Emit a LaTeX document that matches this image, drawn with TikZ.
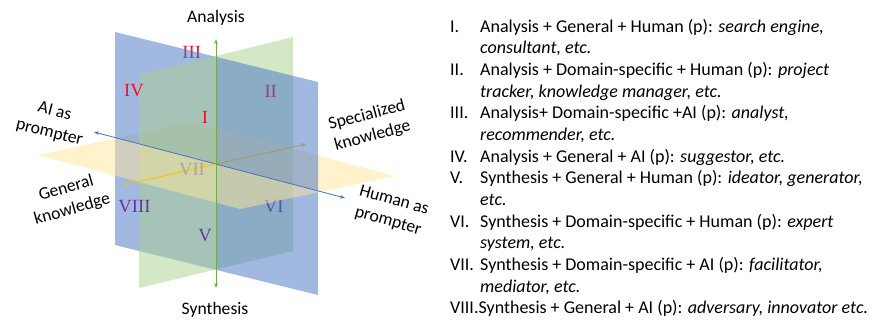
\documentclass[tikz,border=0pt]{standalone}
\usepackage{fontspec}
\setmainfont{Carlito}
\newfontfamily\numfont{Liberation Serif}
\usetikzlibrary{arrows.meta}

\definecolor{planeblue}{RGB}{68,114,196}
\definecolor{planegreen}{RGB}{169,209,142}
\definecolor{planeyellow}{RGB}{255,230,153}
\definecolor{axisgreen}{RGB}{112,173,71}
\definecolor{axisgold}{RGB}{255,192,0}
\definecolor{numred}{RGB}{235,20,30}
\definecolor{numpurple}{RGB}{112,48,160}
\definecolor{numgray}{RGB}{172,168,150}

\tikzset{
  blueplane/.style={fill=planeblue,fill opacity=0.5},
  greenplane/.style={fill=planegreen,fill opacity=0.5},
  yellowplane/.style={fill=planeyellow,fill opacity=0.5},
  axis/.style={draw,line width=0.8pt,-{Stealth[length=5pt,width=3.6pt]}},
  num/.style={inner sep=0,font=\numfont\fontsize{18.6}{20}\selectfont},
  lbl/.style={inner sep=0,align=center},
  item/.style={inner sep=0,anchor=base west,align=left,font=\fontsize{18}{21.65}\selectfont},
}

\begin{document}
\begin{tikzpicture}[x=1pt,y=-1pt,font=\fontsize{17.6}{21.65}\selectfont]
\useasboundingbox (0,0) rectangle (875,320);

\coordinate (O) at (216,164);
\coordinate (ana) at (216,39);
\coordinate (syn) at (216,288);
\coordinate (ai) at (94,132);
\coordinate (hum) at (345,198);
\coordinate (gen) at (124,185);
\coordinate (spe) at (306,144);

% back halves
\path[greenplane] (216,56) -- (293,37) -- (293,251) -- (216,269.5) -- cycle;
\path[yellowplane] (117.4,138.1) -- (193,122) -- (395,176) -- (321.2,191.7) -- cycle;
\path[axis,axisgold] (O) -- (spe);
\node[num,text=numred] (3) at (191.7,52.3) {III};
\node[num,text=numred] (2) at (270.7,91) {II};
\node[num,text=numpurple] (6) at (273.7,207) {VI};

% blue plane, then front halves
\path[blueplane] (115,32) -- (318,82) -- (318,295) -- (115,245) -- cycle;
\path[greenplane] (139,75) -- (216,56) -- (216,269.5) -- (139,288) -- cycle;
\path[yellowplane] (38,155) -- (117.4,138.1) -- (321.2,191.7) -- (240,209) -- cycle;

% axes
\path[axis,planeblue,{Stealth[length=5pt,width=3.6pt]}-{Stealth[length=5pt,width=3.6pt]}] (ai) -- (hum);
\path[axis,axisgreen,{Stealth[length=5pt,width=3.6pt]}-{Stealth[length=5pt,width=3.6pt]}] (syn) -- (ana);
\path[axis,axisgold] (O) -- (gen);

\node[num,text=numred] (1) at (205,117.3) {I};
\node[num,text=numred] (4) at (134,91) {IV};
\node[num,text=numpurple] (5) at (205,235.5) {V};
\node[num,text=numpurple] (8) at (134.5,206.3) {VIII};
\node[num,text=numgray] (7) at (192,169.5) {VII};

% axis labels
\node[inner sep=0,anchor=base] (a) at (216,22.7) {Analysis};
\node[inner sep=0,anchor=base] (s) at (215,314) {Synthesis};
\node[lbl,rotate=-14] (aip) at (52,122.5) {AI as\\prompter};
\node[lbl,rotate=15] (sk) at (369.8,125.8) {Specialized\\knowledge};
\node[lbl,rotate=16] (gk) at (69.2,199.2) {General\\knowledge};
\node[lbl,rotate=-16] (hp) at (391,211.2) {Human as\\prompter};

% list (two-line items sit on the baseline of their last line)
\node[item] (n1) at (450,32.3) {I.};
\node[item] (t1) at (480,53.95) {Analysis + General + Human (p): \textit{search engine,}\\\textit{consultant, etc.}};
\node[item] (n2) at (450,75.6) {II.};
\node[item] (t2) at (480,97.25) {Analysis + Domain-specific + Human (p): \textit{project}\\\textit{tracker, knowledge manager, etc.}};
\node[item] (n3) at (450,118.9) {III.};
\node[item] (t3) at (480,140.55) {Analysis+ Domain-specific +AI (p): \textit{analyst,}\\\textit{recommender, etc.}};
\node[item] (n4) at (450,162.2) {IV.};
\node[item] (t4) at (480,162.2) {Analysis + General + AI (p): \textit{suggestor, etc.}};
\node[item] (n5) at (450,183.9) {V.};
\node[item] (t5) at (480,205.55) {Synthesis + General + Human (p): \textit{ideator, generator,}\\\textit{etc.}};
\node[item] (n6) at (450,227.2) {VI.};
\node[item] (t6) at (480,248.85) {Synthesis + Domain-specific + Human (p): \textit{expert}\\\textit{system, etc.}};
\node[item] (n7) at (450,270.5) {VII.};
\node[item] (t7) at (480,292.15) {Synthesis + Domain-specific + AI (p): \textit{facilitator,}\\\textit{mediator, etc.}};
\node[item] (t8) at (450,313.8) {VIII.Synthesis + General + AI (p): \textit{adversary, innovator etc.}};
\end{tikzpicture}
\end{document}
